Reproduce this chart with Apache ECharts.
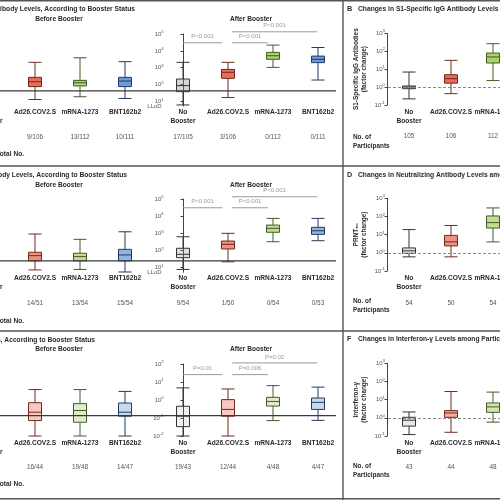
<!DOCTYPE html>
<html><head><meta charset="utf-8">
<script src="https://cdn.jsdelivr.net/npm/echarts@6/dist/echarts.min.js"></script>
<style>html,body{margin:0;padding:0;background:#fff}#c{width:500px;height:500px}</style>
</head><body><div id="c"></div>
<script>
// ---------------- DATA ----------------
const groups = ['No Booster', 'Ad26.COV2.S', 'mRNA-1273', 'BNT162b2'];
const groupLabels = ['No\nBooster', 'Ad26.COV2.S', 'mRNA-1273', 'BNT162b2'];

// Box statistics: [min, Q1, median, Q3, max]
// Row 1: S1-specific IgG antibody levels
const s1Before = [null, [13, 76, 148, 269, 2090], [19, 83, 129, 178, 3890], [15, 76, 162, 269, 2290]];
const s1After = [[6.2, 38, 87, 214, 2090], [17, 234, 537, 794, 2090], [1050, 3160, 5130, 8130, 21900], [186, 2000, 3160, 4900, 15800]];
const s1BeforeCounts = ['', '9/106', '13/112', '10/111'];
const s1AfterCounts = ['17/105', '3/106', '0/112', '0/111'];
const s1P = ['P<0.001', 'P<0.001', 'P<0.001'];
const s1Line = 42;

// Row 2: neutralizing antibody levels
const ntBefore = [null, [7.4, 25, 50, 79, 912], [7.9, 25, 44, 69, 447], [5.6, 25, 55, 117, 1230]];
const ntAfter = [[7.9, 38, 60, 135, 631], [22, 123, 229, 355, 1000], [324, 1150, 1950, 3020, 7410], [372, 871, 1410, 2240, 7410]];
const ntBeforeCounts = ['', '14/51', '13/54', '15/54'];
const ntAfterCounts = ['9/54', '1/50', '0/54', '0/53'];
const ntP = ['P<0.001', 'P<0.001', 'P<0.001'];
const ntLine = 25;

// Row 3: interferon-gamma levels
const ifBefore = [null, [0.01, 0.072, 0.21, 0.71, 3.8], [0.01, 0.058, 0.26, 0.63, 3.8], [0.01, 0.126, 0.21, 0.68, 3.0]];
const ifAfter = [[0.01, 0.033, 0.126, 0.45, 4.7], [0.01, 0.126, 0.30, 1.05, 4.1], [0.072, 0.46, 0.83, 1.41, 6.3], [0.074, 0.30, 0.74, 1.29, 5.2]];
const ifBeforeCounts = ['', '16/44', '19/48', '14/47'];
const ifAfterCounts = ['19/43', '12/44', '4/48', '4/47'];
const ifP = ['P=0.01', 'P=0.006', 'P=0.02'];
const ifLine = 0.135;

// Right panels: factor change
const bFold = [[0.22, 0.81, 1.0, 1.15, 6.9], [0.43, 1.66, 2.95, 4.9, 31], [2.3, 22, 48, 79, 263], null];
const bCounts = ['105', '106', '112', ''];
const dFold = [[0.6, 0.93, 1.29, 1.86, 19], [0.6, 2.4, 4.0, 9.1, 32], [4.0, 23, 46, 107, 295], null];
const dCounts = ['54', '50', '54', ''];
const fFold = [[0.12, 0.35, 0.74, 1.07, 2.1], [0.16, 1.07, 1.86, 2.5, 28], [0.58, 2.0, 4.0, 6.6, 26], null];
const fCounts = ['43', '44', '48', ''];

const leftTitles = ['A  S1-Specific IgG Antibody Levels, According to Booster Status',
  'C  Neutralizing Antibody Levels, According to Booster Status',
  'E  Interferon-\u03b3 Levels, According to Booster Status'];
const rightLetters = ['B', 'D', 'F'];
const rightTitles = ['Changes in S1-Specific IgG Antibody Levels among Participants',
  'Changes in Neutralizing Antibody Levels among Participants',
  'Changes in Interferon-\u03b3 Levels among Participants'];
const rightAxisNames = ['S1-Specific IgG Antibodies\n(factor change)', 'PRNT\u2085\u2080\n(factor change)', 'Interferon-\u03b3\n(factor change)'];

// ---------------- STYLE / LAYOUT ----------------
const FONT = '"Liberation Sans", Arial, sans-serif';
const PAL = [
  {fill: [140, 140, 140], line: '#333333'},
  {fill: [230, 70, 45], line: '#6e2a1e'},
  {fill: [150, 200, 70], line: '#46592a'},
  {fill: [70, 130, 210], line: '#243a5e'}
];
const L = v => Math.log10(v);
const rgba = (c, a) => `rgba(${c[0]},${c[1]},${c[2]},${a})`;

const leftRows = [
  {before: s1Before, after: s1After, bc: s1BeforeCounts, ac: s1AfterCounts, p: s1P, line: s1Line,
   top: 34, height: 72, min: 0.73, max: 5, ticks: [1, 2, 3, 4, 5], llod: true, margin: 1.65,
   brY: [4.48, 5.13], alpha: 0.8, titleY: 9, titleEnd: 135, headY: 19.3, totalY: 154.5},
  {before: ntBefore, after: ntAfter, bc: ntBeforeCounts, ac: ntAfterCounts, p: ntP, line: ntLine,
   top: 199, height: 73.3, min: 0.73, max: 5, ticks: [1, 2, 3, 4, 5], llod: true, margin: 1.35,
   brY: [4.49, 5.13], alpha: 0.6, titleY: 175, titleEnd: 127, headY: 185, totalY: 320.7},
  {before: ifBefore, after: ifAfter, bc: ifBeforeCounts, ac: ifAfterCounts, p: ifP, line: ifLine,
   top: 364, height: 72, min: -2, max: 2, ticks: [-2, -1, 0, 1, 2], llod: false, margin: 2.05,
   brY: [1.41, 2.06], alpha: 0.3, titleY: 340, titleEnd: 95, headY: 349.3, totalY: 484.3}
];
const rightRows = [
  {stats: bFold, counts: bCounts, top: 33.3, height: 71.7, margin: 2.05, alpha: 0.8, titleY: 9, noY: 137},
  {stats: dFold, counts: dCounts, top: 198.3, height: 72.7, margin: 2.65, alpha: 0.6, titleY: 175, noY: 301.7},
  {stats: fFold, counts: fCounts, top: 363.3, height: 72.7, margin: 2.05, alpha: 0.45, titleY: 339.5, noY: 466.7}
];

// ---------------- BUILD ----------------
const grids = [], xAxes = [], yAxes = [], series = [], graphics = [];
const addGrid = o => (grids.push(Object.assign({outerBoundsMode: 'none', containLabel: false}, o)), grids.length - 1);
const addX = o => (xAxes.push(o), xAxes.length - 1);
const addY = o => (yAxes.push(o), yAxes.length - 1);

const catRich = {
  n: {fontFamily: FONT, fontSize: 6.6, fontWeight: 'bold', color: '#2a2a2a', lineHeight: 9.3},
  c: {fontFamily: FONT, fontSize: 6.4, color: '#555', lineHeight: 21.3}
};
function catFormatter(counts) {
  return (v, i) => {
    const lines = groupLabels[i].split('\n');
    return `{n|${lines[0]}}\n{n|${lines[1] || ' '}}\n{c|${counts[i] || ' '}}`;
  };
}
function catAxis(gi, counts, margin) {
  return addX({type: 'category', gridIndex: gi, data: groups,
    axisLine: {show: false}, axisTick: {show: false}, splitLine: {show: false},
    axisLabel: {interval: 0, margin, hideOverlap: false, formatter: catFormatter(counts), rich: catRich, fontFamily: FONT}});
}
const tickRich = {
  b: {fontFamily: FONT, fontSize: 6, color: '#555', lineHeight: 8},
  s: {fontFamily: FONT, fontSize: 4.3, color: '#555', verticalAlign: 'top', lineHeight: 5}
};
function logAxis(gi, cfg, offset, extra) {
  return addY(Object.assign({type: 'value', gridIndex: gi, min: cfg.min, max: cfg.max, offset, position: 'left',
    axisLine: {show: true, lineStyle: {color: '#444', width: 1}},
    axisTick: {show: true, length: 2.5, customValues: cfg.ticks, lineStyle: {color: '#444', width: 1}},
    axisLabel: {customValues: cfg.ticks, margin: 2, rich: tickRich, hideOverlap: false,
      formatter: v => `{b|10}{s|${Math.round(v)}}`},
    splitLine: {show: false}}, extra || {}));
}
function boxSeries(xi, yi, stats, alpha) {
  const data = [];
  stats.forEach((s, i) => {
    if (!s) return;
    const a = i === 0 ? alpha * 0.45 : alpha;
    data.push({value: [i].concat(s.map(L)),
      itemStyle: {color: rgba(PAL[i].fill, a), borderColor: PAL[i].line, borderWidth: 1}});
  });
  return {type: 'boxplot', xAxisIndex: xi, yAxisIndex: yi, encode: {x: 0, y: [1, 2, 3, 4, 5]},
    boxWidth: [13, 13], silent: true, data};
}
const txt = (x, y, text, font, fill, align) => ({type: 'text', x, y, silent: true,
  style: {text, font, fill: fill || '#2a2a2a', textAlign: align || 'left', textVerticalAlign: 'middle'}});
const BOLD = s => `bold ${s}px "Liberation Sans", Arial, sans-serif`;

leftRows.forEach((r, k) => {
  const gBefore = addGrid({left: -32.5, top: r.top, width: 180, height: r.height});
  const gAfter = addGrid({left: 160.5, top: r.top, width: 180, height: r.height});
  const gLine = addGrid({left: 0, top: r.top, width: 336, height: r.height});

  const xb = catAxis(gBefore, r.bc, r.margin);
  const yb = addY({type: 'value', gridIndex: gBefore, min: r.min, max: r.max, show: false});
  const xa = catAxis(gAfter, r.ac, r.margin);
  const ya = logAxis(gAfter, r, -5.2);
  if (r.llod) {
    // separate label axis for the lower limit of detection marker
    addY({type: 'value', gridIndex: gAfter, min: r.min, max: r.max, offset: -5.2, position: 'left',
      axisLine: {show: false}, axisTick: {show: false}, splitLine: {show: false},
      axisLabel: {customValues: [r.min], margin: 4, fontFamily: FONT, fontSize: 6, color: '#555',
        showMinLabel: true, formatter: () => 'LLoD'}});
  }
  const xv = addX({type: 'value', gridIndex: gAfter, min: -0.5, max: 3.5, show: false});
  const xl = addX({type: 'value', gridIndex: gLine, min: 0, max: 1, show: false});
  const yl = addY({type: 'value', gridIndex: gLine, min: r.min, max: r.max, show: false});

  series.push(boxSeries(xb, yb, r.before, r.alpha));
  series.push(boxSeries(xa, ya, r.after, r.alpha));
  series.push({type: 'line', xAxisIndex: xl, yAxisIndex: yl, data: [[0, L(r.line)], [1, L(r.line)]],
    symbol: 'none', silent: true, z: 5, lineStyle: {color: '#3a3a3a', width: 1.2}});

  // significance brackets (in category-index units)
  const spans = [[0, 0.87, r.brY[0]], [1.09, 1.89, r.brY[0]], [1.09, 2.98, r.brY[1]]];
  spans.forEach((s, j) => {
    series.push({type: 'line', xAxisIndex: xv, yAxisIndex: ya, data: [[s[0], s[2]], [s[1], s[2]]],
      symbol: 'none', clip: false, silent: true, lineStyle: {color: '#9a9a9a', width: 1}});
    series.push({type: 'scatter', xAxisIndex: xv, yAxisIndex: ya, clip: false, silent: true,
      symbolSize: 1, itemStyle: {color: 'transparent'},
      data: [{value: [(s[0] + s[1]) / 2, s[2]]}],
      label: {show: true, position: 'top', distance: 2.5, formatter: r.p[j],
        fontFamily: FONT, fontSize: 6, color: '#808080'}});
  });

  graphics.push(txt(r.titleEnd, r.titleY, leftTitles[k], BOLD(6.7), '#2a2a2a', 'right'));
  graphics.push(txt(59, r.headY, 'Before Booster', BOLD(6.6), '#2a2a2a', 'center'));
  graphics.push(txt(251, r.headY, 'After Booster', BOLD(6.6), '#2a2a2a', 'center'));
  graphics.push(txt(24, r.totalY, 'Total No.', BOLD(6.6), '#2a2a2a', 'right'));
});

rightRows.forEach((r, k) => {
  const cfg = {min: -1, max: 3, ticks: [-1, 0, 1, 2, 3]};
  const g = addGrid({left: 388, top: r.top, width: 168, height: r.height});
  const xi = catAxis(g, r.counts, r.margin);
  const yi = logAxis(g, cfg, 1, {
    name: rightAxisNames[k], nameLocation: 'middle', nameRotate: 90, nameGap: 19,
    nameTextStyle: {fontFamily: FONT, fontSize: 6.4, fontWeight: 'bold', color: '#2a2a2a', lineHeight: 8}});
  const s = boxSeries(xi, yi, r.stats, r.alpha);
  s.markLine = {symbol: 'none', silent: true, label: {show: false},
    lineStyle: {type: [3, 2], color: '#8a8a8a', width: 1}, data: [{yAxis: 0}]};
  series.push(s);
  graphics.push(txt(347, r.titleY, rightLetters[k], BOLD(7.2)));
  graphics.push(txt(358, r.titleY, rightTitles[k], BOLD(6.7)));
  graphics.push(txt(353, r.noY, 'No. of', BOLD(6.4)));
  graphics.push(txt(353, r.noY + 9, 'Participants', BOLD(6.4)));
});

// frame lines
const frame = (x1, y1, x2, y2) => ({type: 'line', silent: true, shape: {x1, y1, x2, y2},
  style: {stroke: '#555', lineWidth: 1.4}});
graphics.push(frame(0, 0.7, 500, 0.7), frame(0, 166, 500, 166), frame(0, 331, 500, 331),
  frame(0, 498.8, 500, 498.8), frame(343, 0, 343, 500));

const chart = echarts.init(document.getElementById('c'), null, {renderer: 'canvas'});
chart.setOption({
  animation: false,
  backgroundColor: '#fff',
  textStyle: {fontFamily: FONT},
  grid: grids, xAxis: xAxes, yAxis: yAxes, series,
  graphic: {elements: graphics}
});
</script></body></html>
